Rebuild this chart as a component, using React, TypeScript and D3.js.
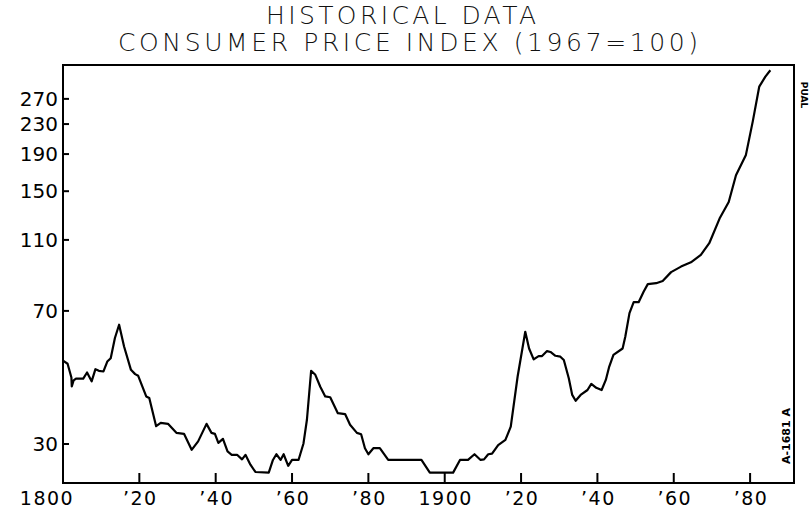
import React, { useRef, useEffect } from 'react';
import * as d3 from 'd3';

// values (CPI, 1967=100)
const years = [
  1800, 1801.2, 1802.2, 1802.3, 1802.8, 1803.4, 1805.3, 1806.3, 1807.5, 1808.5,
  1809.4, 1810.6, 1811.6, 1812.5, 1813.6, 1814.7, 1816.0, 1817.8, 1818.9, 1819.7,
  1821.8, 1822.6, 1824.4, 1825.6, 1827.5, 1829.7, 1831.7, 1833.7, 1835.4, 1837.6,
  1838.9, 1839.8, 1840.7, 1841.9, 1843.1, 1844.2, 1845.6, 1846.9, 1847.8, 1849.1,
  1850.4, 1853.9, 1855.0, 1855.9, 1857.0, 1857.8, 1859.0, 1860.0, 1861.7, 1863.0,
  1863.9, 1865.0, 1866.1, 1867.4, 1868.7, 1870.0, 1872.0, 1873.9, 1875.2, 1877.0,
  1878.1, 1879.1, 1880.0, 1881.3, 1883.0, 1885.2, 1893.9, 1896.1, 1902.2, 1904.0,
  1906.1, 1907.8, 1909.4, 1910.3, 1911.4, 1912.4, 1914.0, 1915.9, 1917.3, 1919.1,
  1921.1, 1922.1, 1923.3, 1924.6, 1925.5, 1926.8, 1927.7, 1929.0, 1930.3, 1931.2,
  1932.5, 1933.4, 1934.3, 1935.6, 1937.4, 1938.4, 1939.7, 1941.1, 1942.2, 1943.1,
  1944.2, 1946.6, 1947.3, 1948.4, 1949.5, 1950.8, 1952.1, 1953.2, 1955.4, 1957.1,
  1959.3, 1961.9, 1964.5, 1967.1, 1969.3, 1972.0, 1974.4, 1976.3, 1978.9, 1980.7,
  1982.4, 1984.0, 1985.3,
];
const cpi = [
  51, 50, 45.8, 43.3, 45, 45.5, 45.5, 47.3, 44.7, 48.3,
  47.8, 47.6, 50.7, 51.8, 58.9, 64.1, 55.8, 48.1, 46.8, 46.3,
  40.6, 40.2, 33.6, 34.3, 34.1, 32.2, 32.0, 28.9, 30.5, 34.1,
  32.2, 32.0, 30.2, 31.0, 28.6, 28.0, 28.0, 27.2, 28.0, 26.3,
  25.1, 25.0, 27.1, 28.1, 27.1, 28.1, 26.1, 27.1, 27.1, 30.1,
  35.0, 47.8, 46.6, 43.2, 40.6, 40.4, 36.5, 36.3, 33.9, 32.2,
  31.9, 29.2, 28.1, 29.2, 29.2, 27.1, 27.1, 25.0, 25.0, 27.1,
  27.1, 28.1, 27.1, 27.2, 28.1, 28.2, 29.8, 30.8, 33.5, 46.1,
  61.3, 55.1, 51.4, 52.5, 52.5, 54.2, 53.9, 52.6, 52.3, 51.2,
  45.6, 41.0, 39.5, 41.0, 42.3, 44.0, 42.9, 42.3, 45.1, 49.1,
  52.9, 55.1, 59.4, 69.0, 74.0, 74.0, 79.1, 83.0, 83.5, 84.7,
  89.6, 92.8, 95.4, 100, 107.7, 126, 140, 166, 189, 234,
  292, 311, 324,
];

const yTicks = [30, 70, 110, 150, 190, 230, 270];
const xTicks = [1800, 1820, 1840, 1860, 1880, 1900, 1920, 1940, 1960, 1980];
const xTickLabels = ['1800', '\u201920', '\u201940', '\u201960', '\u201980', '1900', '\u201920', '\u201940', '\u201960', '\u201980'];
const titleLines = ['HISTORICAL DATA', 'CONSUMER PRICE INDEX (1967=100)'];

const W = 811;
const H = 511;

export default function App() {
  const ref = useRef<SVGSVGElement | null>(null);

  useEffect(() => {
    if (!ref.current) return;
    const svg = d3.select(ref.current);
    svg.selectAll('*').remove();

    const left = 63, right = 794, top = 65, bottom = 483;

    const x = d3.scaleLinear().domain([1800, 1991.5]).range([left, right]);
    const y = d3.scaleLog().domain([23.4, 335]).range([bottom, top]);

    svg.append('rect').attr('width', W).attr('height', H).attr('fill', '#fff');

    // title, thin condensed plotter lettering
    const titleSpans: [number, number, number][] = [[266, 270, 24], [118, 580, 51]];
    titleLines.forEach((t, i) => {
      svg.append('text')
        .attr('x', titleSpans[i][0])
        .attr('y', titleSpans[i][2])
        .attr('textLength', titleSpans[i][1])
        .attr('lengthAdjust', 'spacing')
        .style('font-family', '"DejaVu Sans", sans-serif')
        .style('font-weight', 200)
        .style('font-stretch', 'condensed')
        .style('font-size', '25px')
        .attr('fill', '#111')
        .text(t);
    });

    // frame
    svg.append('rect')
      .attr('x', left).attr('y', top)
      .attr('width', right - left).attr('height', bottom - top)
      .attr('fill', 'none')
      .attr('stroke', '#000')
      .attr('stroke-width', 2);

    // y ticks (inward) + labels
    const yAxis = svg.append('g');
    yTicks.forEach(v => {
      yAxis.append('line')
        .attr('x1', left).attr('x2', left + 6)
        .attr('y1', y(v)).attr('y2', y(v))
        .attr('stroke', '#000').attr('stroke-width', 2);
      yAxis.append('text')
        .attr('x', left - 5)
        .attr('y', y(v))
        .attr('dy', '0.36em')
        .attr('text-anchor', 'end')
        .style('font-family', '"DejaVu Sans", sans-serif')
        .style('font-size', '20px')
        .attr('fill', '#000')
        .text(String(v));
    });

    // x ticks (upward from the bottom) + labels
    const xAxis = svg.append('g');
    xTicks.forEach((yr, i) => {
      if (yr > 1800) {
        xAxis.append('line')
          .attr('x1', x(yr)).attr('x2', x(yr))
          .attr('y1', bottom).attr('y2', bottom - 10)
          .attr('stroke', '#000').attr('stroke-width', 2);
      }
      xAxis.append('text')
        .attr('x', x(yr) + (yr === 1800 ? -16 : 1))
        .attr('y', 505)
        .attr('text-anchor', 'middle')
        .style('font-family', '"DejaVu Sans", sans-serif')
        .style('font-size', '19px')
        .style('letter-spacing', '1.5px')
        .attr('fill', '#000')
        .text(xTickLabels[i]);
    });

    // series
    const pts = years.map((yr, i) => [yr, cpi[i]] as [number, number]);
    const line = d3.line<[number, number]>()
      .x(d => x(d[0]))
      .y(d => y(d[1]));
    svg.append('path')
      .datum(pts)
      .attr('fill', 'none')
      .attr('stroke', '#000')
      .attr('stroke-width', 2.2)
      .attr('stroke-linejoin', 'round')
      .attr('d', line);

    // drawing marks along the right edge
    svg.append('text')
      .attr('transform', `translate(${right + 7},${top + 30}) rotate(90)`)
      .attr('text-anchor', 'middle')
      .style('font-family', '"DejaVu Sans", sans-serif')
      .style('font-size', '9px')
      .style('font-weight', 'bold')
      .attr('fill', '#000')
      .text('PUAL');
    svg.append('text')
      .attr('transform', `translate(${right - 4},${bottom - 47}) rotate(-90)`)
      .attr('text-anchor', 'middle')
      .style('font-family', '"DejaVu Sans", sans-serif')
      .style('font-size', '11px')
      .style('font-weight', 'bold')
      .attr('fill', '#000')
      .text('A-1681 A');
  }, []);

  return (
    <svg
      ref={ref}
      width={W}
      height={H}
      style={{ position: 'absolute', left: 0, top: 0, display: 'block' }}
    />
  );
}
